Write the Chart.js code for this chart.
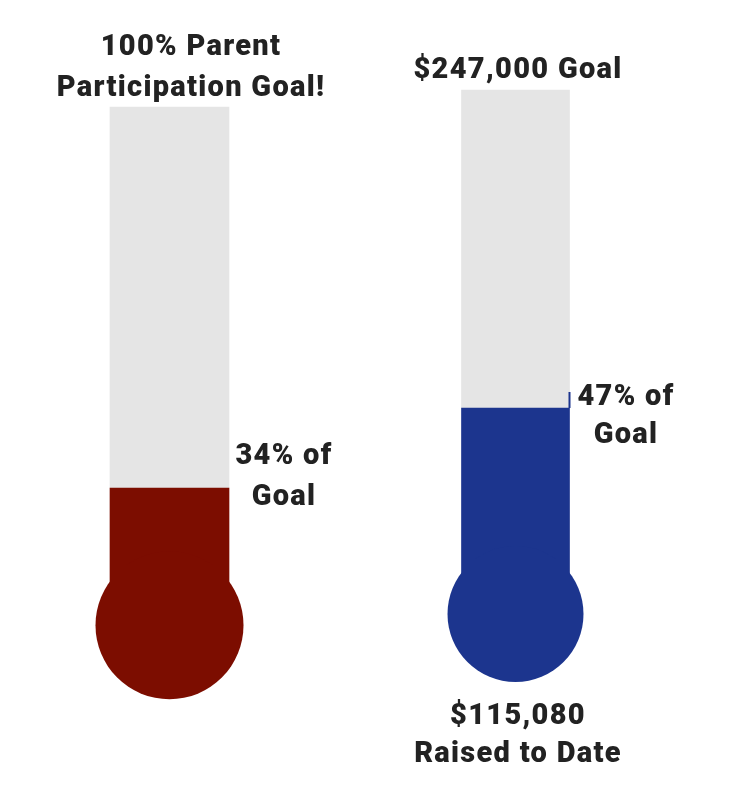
<!DOCTYPE html>
<html>
<head>
<meta charset="utf-8">
<script src="https://cdn.jsdelivr.net/npm/chart.js@4.4.1/dist/chart.umd.min.js"></script>
<style>
  html, body { margin: 0; padding: 0; background: #ffffff; }
  #wrap { position: relative; width: 733px; height: 802px; overflow: hidden; }
  canvas { position: absolute; top: 0; }
</style>
</head>
<body>
<div id="wrap">
  <canvas id="left" width="366" height="802" style="left:0px"></canvas>
  <canvas id="right" width="367" height="802" style="left:366px"></canvas>
</div>
<script>
// ---- data ----
const categories = ['Parent Participation', 'Funds Raised'];
const percentOfGoal = [34, 47];
const goalPercent = [100, 100];
const titleLines = [['100% Parent', 'Participation Goal!'], ['$247,000 Goal']];
const progressLines = [['34% of', 'Goal'], ['47% of', 'Goal']];
const raisedLines = [[], ['$115,080', 'Raised to Date']];

// ---- styles / layout ----
const fillColors = ['#7c0d00', '#1c358e'];
const emptyColor = '#e5e5e5';
const textColor = '#222222';
const FONT = '900 29px Roboto, "Liberation Sans", sans-serif';

const layouts = [
  { canvas: 'left', offsetX: 0, padRight: 27, barThickness: 119, yMin: -20.39, yMax: 118.53,
    bulbRadius: 74, bulbOffset: 59, pointer: false,
    title: { x: 191, y: [55, 96] }, progress: { x: 284, y: [464, 505] }, raised: { x: 518, y: [724, 762] } },
  { canvas: 'right', offsetX: 366, padRight: 68, barThickness: 108, yMin: -18.67, yMax: 115,
    bulbRadius: 68, bulbOffset: 76, pointer: true,
    title: { x: 518, y: [78] }, progress: { x: 626, y: [405, 443] }, raised: { x: 518, y: [724, 762] } }
];

function bulbCenterY(chart, L) {
  return chart.scales.y.getPixelForValue(0) - L.bulbOffset;
}

const thermoPlugin = {
  id: 'thermo',
  beforeDatasetsDraw(chart, args, opts) {
    const L = layouts[opts.index];
    const ctx = chart.ctx;
    ctx.save();
    ctx.beginPath();
    ctx.rect(0, 0, chart.width, bulbCenterY(chart, L));
    ctx.clip();
  },
  afterDatasetsDraw(chart, args, opts) {
    const ctx = chart.ctx;
    ctx.restore();
    const i = opts.index;
    const L = layouts[i];
    const bar = chart.getDatasetMeta(0).data[0];
    const yScale = chart.scales.y;
    ctx.save();
    ctx.fillStyle = fillColors[i];
    ctx.beginPath();
    ctx.arc(bar.x, bulbCenterY(chart, L), L.bulbRadius, 0, Math.PI * 2);
    ctx.fill();
    if (L.pointer) {
      const lvl = yScale.getPixelForValue(percentOfGoal[i]);
      ctx.fillRect(bar.x + bar.width / 2 - 1, lvl - 16, 2, 16);
    }
    ctx.restore();
  },
  afterDraw(chart, args, opts) {
    const ctx = chart.ctx;
    const i = opts.index;
    const L = layouts[i];
    ctx.save();
    ctx.fillStyle = textColor;
    ctx.font = FONT;
    ctx.letterSpacing = '1.3px';
    ctx.textAlign = 'center';
    ctx.textBaseline = 'alphabetic';
    const put = (lines, pos) => lines.forEach((t, k) => ctx.fillText(t, pos.x - L.offsetX, pos.y[k]));
    put(titleLines[i], L.title);
    put(progressLines[i], L.progress);
    put(raisedLines[i], L.raised);
    ctx.restore();
  }
};

layouts.forEach((L, i) => {
  new Chart(document.getElementById(L.canvas), {
    type: 'bar',
    data: {
      labels: [categories[i]],
      datasets: [
        { data: [percentOfGoal[i]], backgroundColor: fillColors[i], barThickness: L.barThickness, borderWidth: 0 },
        { data: [goalPercent[i] - percentOfGoal[i]], backgroundColor: emptyColor, barThickness: L.barThickness, borderWidth: 0 }
      ]
    },
    options: {
      responsive: false,
      animation: false,
      layout: { padding: { left: 0, right: L.padRight, top: 0, bottom: 0 } },
      plugins: { legend: { display: false }, tooltip: { enabled: false }, thermo: { index: i } },
      scales: {
        x: { display: false, stacked: true },
        y: { display: false, stacked: true, min: L.yMin, max: L.yMax }
      }
    },
    plugins: [thermoPlugin]
  });
});
</script>
</body>
</html>
